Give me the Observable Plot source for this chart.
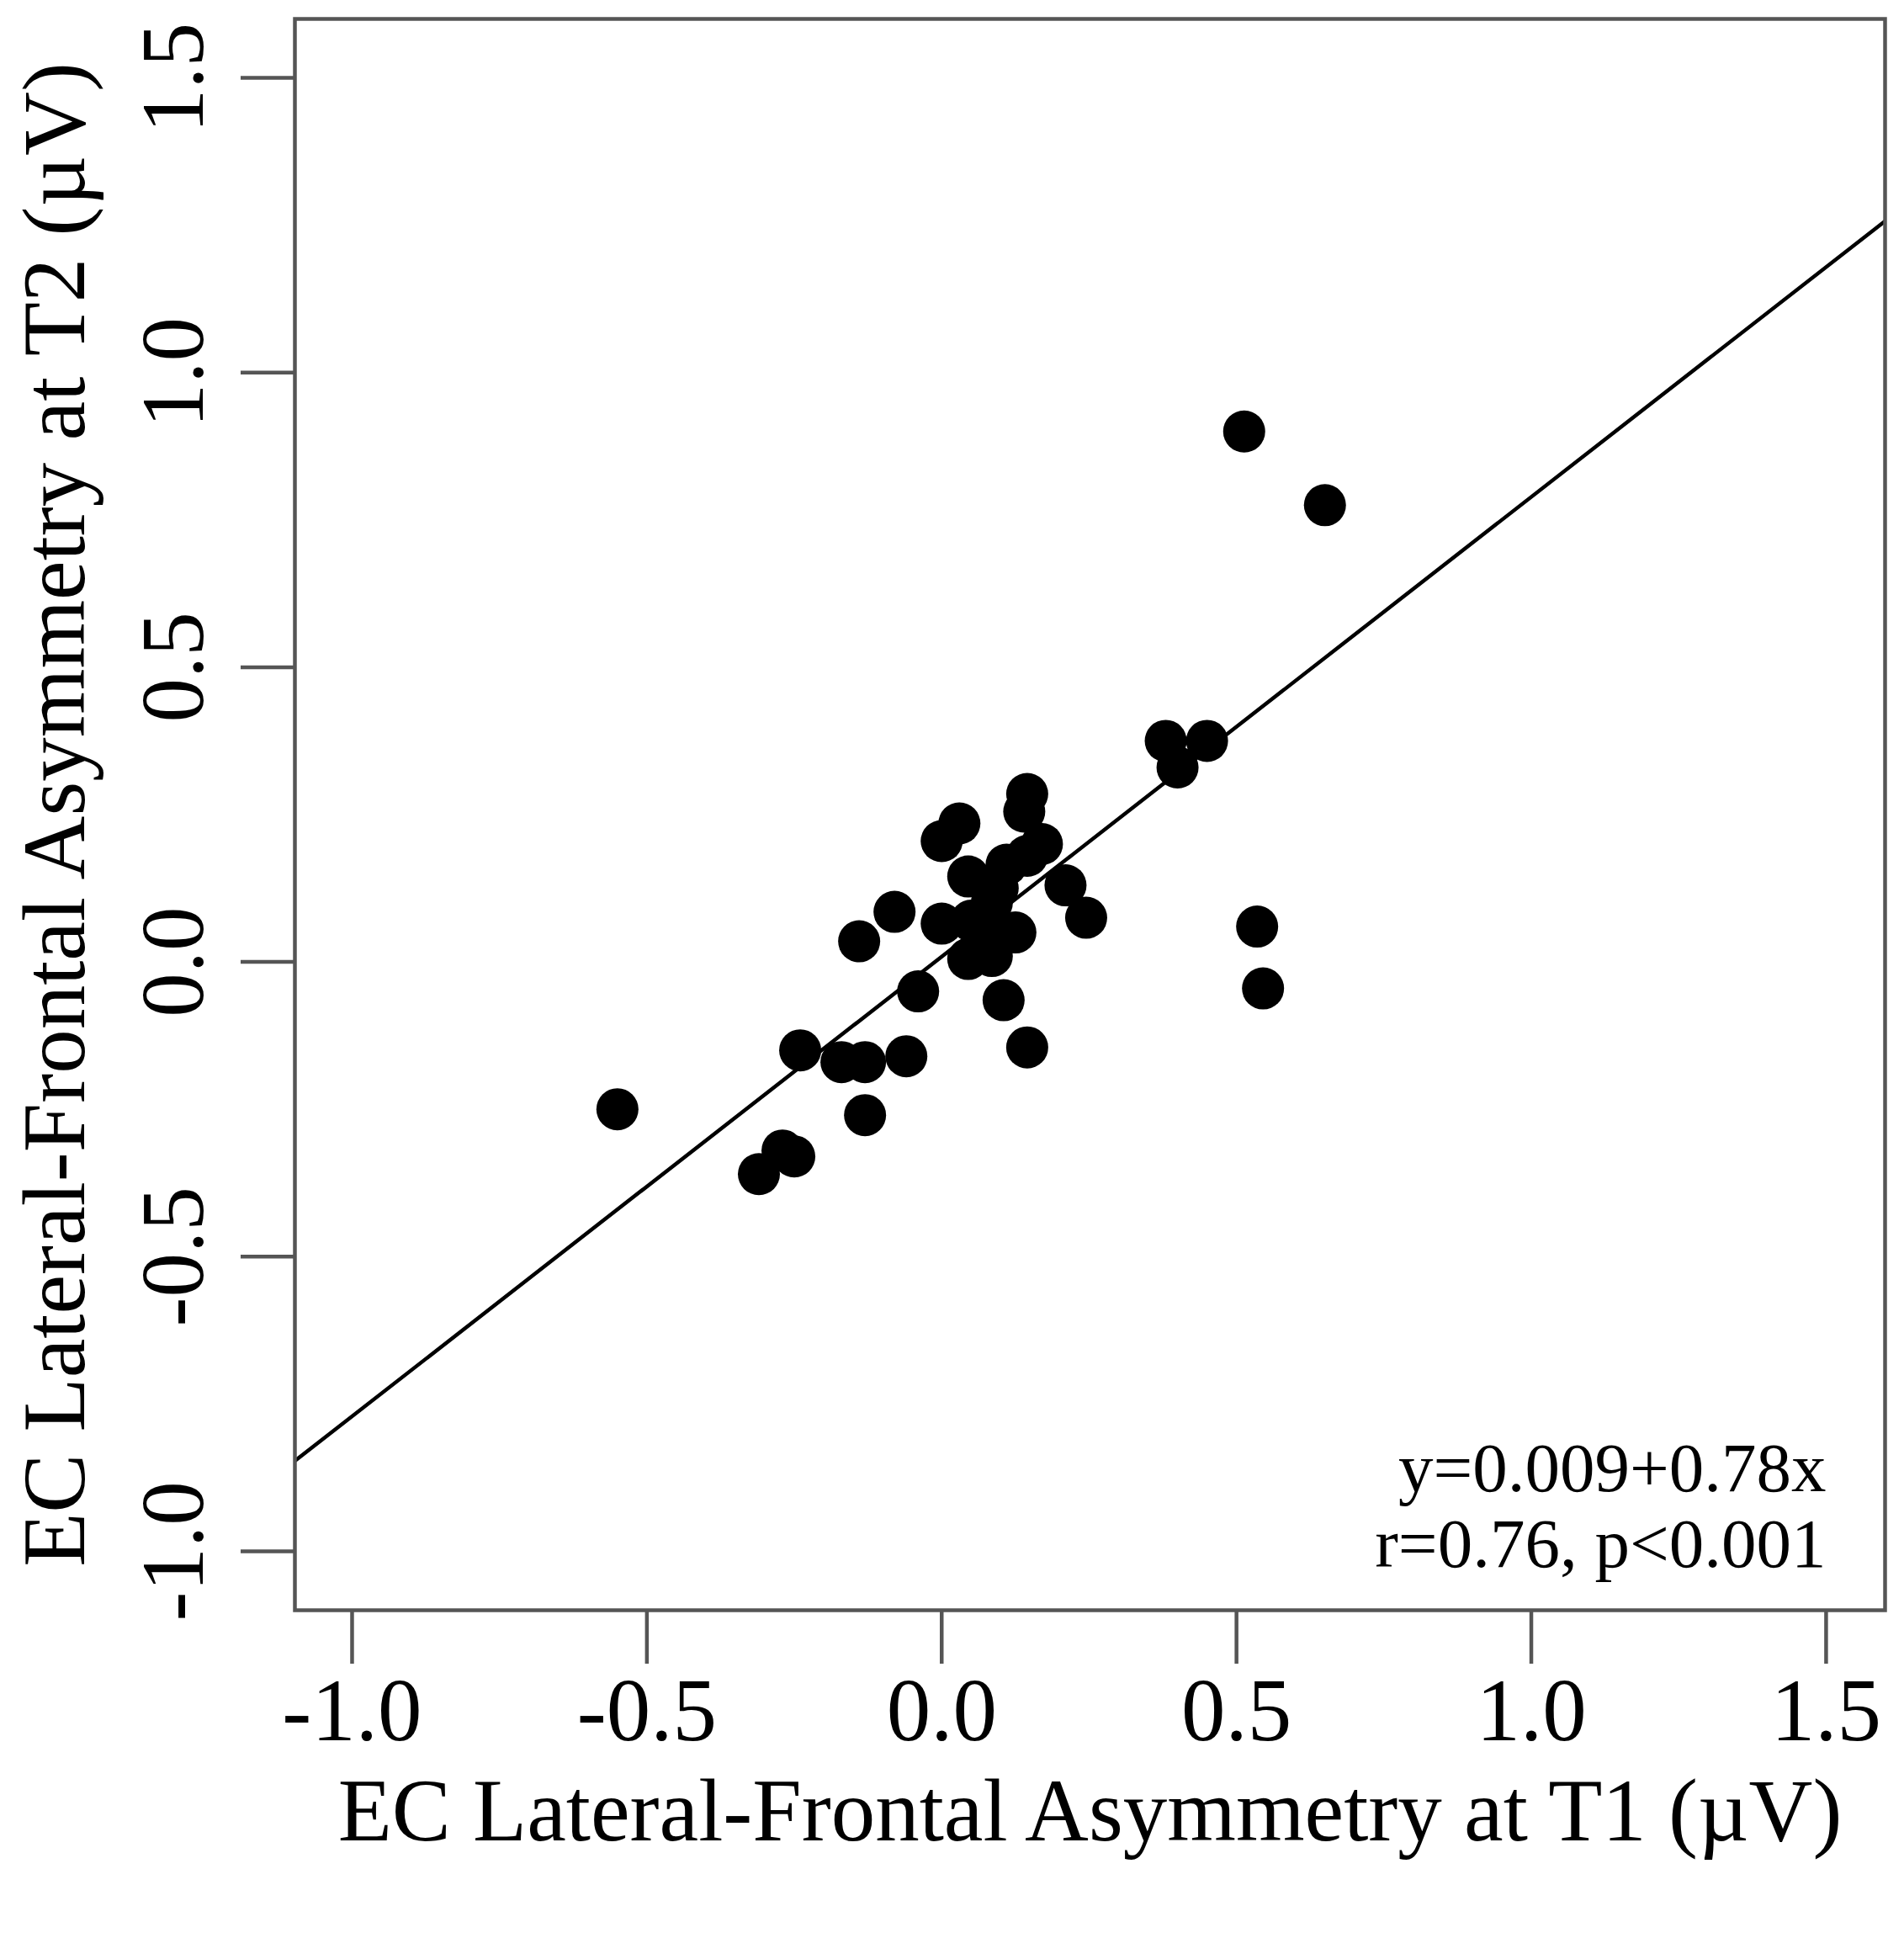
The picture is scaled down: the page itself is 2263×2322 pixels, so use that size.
<!DOCTYPE html>
<html>
<head>
<meta charset="utf-8">
<script src="https://cdn.jsdelivr.net/npm/d3@7"></script>
<script src="https://cdn.jsdelivr.net/npm/@observablehq/plot@0.6"></script>
<style>
  html, body { margin: 0; padding: 0; background: #fff; }
  #chart svg { display: block; }
</style>
</head>
<body>
<div id="chart"></div>
<script>
// Data (T1 vs T2 asymmetry, µV)
const t1 = [-0.55, -0.31, -0.27, -0.25, -0.24, -0.17, -0.13, -0.13, -0.14, -0.08,
            -0.06, -0.04, 0.00, 0.03, 0.00, 0.045, 0.05, 0.085, 0.11, 0.125,
            0.045, 0.085, 0.07, 0.145, 0.14, 0.17, 0.21, 0.245, 0.105, 0.145,
            0.38, 0.45, 0.40, 0.513, 0.65, 0.535, 0.545, 0.145, 0.095];
const t2 = [-0.25, -0.36, -0.32, -0.33, -0.15, -0.17, -0.17, -0.26, 0.035, 0.085,
            -0.16, -0.05, 0.205, 0.235, 0.065, 0.145, 0.07, 0.10, 0.165, 0.05,
            0.005, 0.01, 0.04, 0.285, 0.255, 0.20, 0.13, 0.075, -0.065, -0.145,
            0.375, 0.375, 0.33, 0.90, 0.775, 0.06, -0.045, 0.18, 0.125];
const xTicks = [-1.0, -0.5, 0.0, 0.5, 1.0, 1.5];
const yTicks = [-1.0, -0.5, 0.0, 0.5, 1.0, 1.5];
const xDomain = [-1.097, 1.6];
const yDomain = [-1.1, 1.6];
const intercept = [0.009];
const slope = [0.78];
const xLabel = "EC Lateral-Frontal Asymmetry at T1 (\u00b5V)";
const yLabel = "EC Lateral-Frontal Asymmetry at T2 (\u00b5V)";
const annotation = ["y=0.009+0.78x", "r=0.76, p<0.001"];

const points = t1.map((x, i) => ({x, y: t2[i]}));
const fitLine = xDomain.map(x => ({x, y: intercept[0] + slope[0] * x}));
const fmt = d => d.toFixed(1);
const FONT = "'Liberation Serif', 'DejaVu Serif', serif";
const GRAY = "#555";

const chart = Plot.plot({
  width: 2263,
  height: 2322,
  marginLeft: 350,
  marginRight: 23,
  marginTop: 22,
  marginBottom: 409,
  style: {fontFamily: FONT, background: "#fff", color: "#000"},
  x: {domain: xDomain},
  y: {domain: yDomain},
  marks: [
    Plot.axisX({ticks: xTicks, tickSize: 64, tickPadding: 16, fontSize: 105,
                tickFormat: fmt, stroke: GRAY, strokeWidth: 4.5, fill: "#000", label: null}),
    Plot.axisY({ticks: yTicks, tickSize: 64, tickFormat: () => "", stroke: GRAY,
                strokeWidth: 4.5, label: null}),
    Plot.text(yTicks, {y: d => d, frameAnchor: "left", dx: -143, rotate: -90,
                       text: fmt, fontSize: 105, textAnchor: "middle", lineAnchor: "middle", fill: "#000"}),
    Plot.line(fitLine, {x: "x", y: "y", stroke: "#000", strokeWidth: 4.5, clip: true}),
    Plot.dot(points, {x: "x", y: "y", r: 25, fill: "#000", stroke: "none"}),
    Plot.frame({stroke: GRAY, strokeWidth: 4.5}),
    Plot.text([annotation.join("\n")], {frameAnchor: "bottom-right", dx: -70, dy: -52,
                       textAnchor: "end", lineAnchor: "bottom", lineHeight: 1.08,
                       fontSize: 83, fill: "#000"}),
    Plot.text([xLabel], {frameAnchor: "bottom", dy: 273, lineAnchor: "bottom",
                         fontSize: 105, fill: "#000"}),
    Plot.text([yLabel], {frameAnchor: "left", dx: -284, rotate: -90, lineAnchor: "middle",
                         textAnchor: "middle", fontSize: 105, fill: "#000"})
  ]
});
document.getElementById("chart").appendChild(chart);
</script>
</body>
</html>
